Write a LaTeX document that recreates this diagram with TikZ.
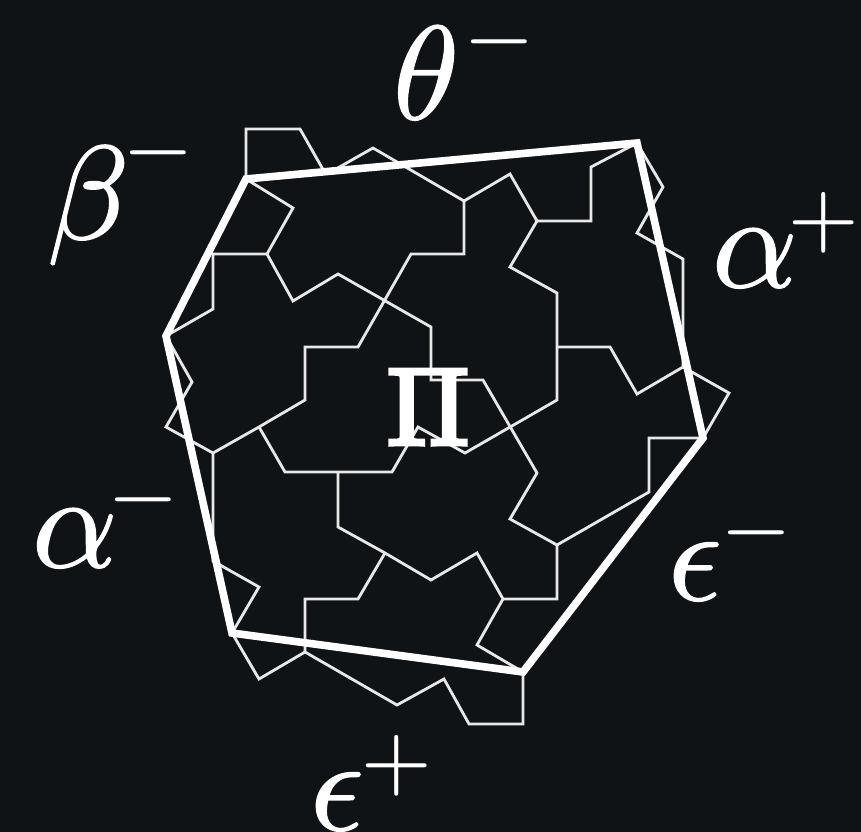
\documentclass[tikz,border=0pt]{standalone}
\usepackage{graphicx}
\usepackage{amsmath}
\definecolor{bgc}{HTML}{101316}
\definecolor{thinc}{HTML}{E8E8E8}
\tikzset{
  thinedge/.style={draw=thinc,line width=2.1pt,line join=miter,line cap=butt},
  thickedge/.style={draw=white,line width=5.7pt,line join=miter},
  lab/.style={text=white,inner sep=0pt,outer sep=0pt,anchor=base west}
}
\newdimen\pxu \pxu=0.75pt
\newcommand{\heavy}[2]{\special{pdf:code 2 Tr #1 w}#2\special{pdf:code 0 Tr}}
% base symbol, superscript, kern (px), raise (px)
\newcommand{\suplab}[4]{\scalebox{10}{\heavy{0.1}{$#1$}}\kern#3\pxu\raisebox{#4\pxu}{\scalebox{8.85}{$\scriptstyle{#2}$}}}
\begin{document}
\begin{tikzpicture}[x=0.75pt,y=-0.75pt]
\useasboundingbox[fill=bgc] (0,0) rectangle (861,832);
% outer vertices
\coordinate (V1) at (246,179);
\coordinate (V2) at (637,143);
\coordinate (V3) at (703,438);
\coordinate (V4) at (523,672);
\coordinate (V5) at (232,633);
\coordinate (V6) at (166,336);
\coordinate (J1) at (464,201);
\coordinate (J2) at (537,221);
\coordinate (J3) at (557,347);
\coordinate (J4) at (683,367);
\coordinate (J5) at (557,545);
\coordinate (J6) at (213,453);
\coordinate (J7) at (267,254);
\coordinate (J8) at (338,472);
\coordinate (J9) at (503,599);
\coordinate (J10) at (305,652);
\coordinate (J11) at (385,553);
\coordinate (J12) at (305,400);
\coordinate (J13) at (259,427);
% boundary tiles
\draw[thinedge] (V1) -- (246,129) -- (300,129) -- (325,173);
\draw[thinedge] (336,169) -- (373,148) -- (J1) -- (510,174) -- (J2) -- (591,221) -- (591,167) -- (V2);
\draw[thinedge] (V2) -- (663,187) -- (637,233) -- (683,259) -- (J4) -- (637,394) -- (610,347) -- (J3);
\draw[thinedge] (J4) -- (729,393) -- (V3);
\draw[thinedge] (V3) -- (649,438) -- (649,492) -- (J5) -- (510,519) -- (537,473) -- (483,380) -- (431,380) -- (431,327) -- (338,274) -- (293,301) -- (J7);
\draw[thinedge] (J1) -- (464,254) -- (411,254) -- (358,347) -- (305,347) -- (J12) -- (J13) -- (J6);
\draw[thinedge] (J2) -- (510,267) -- (557,293) -- (J3) -- (557,400) -- (465,453) -- (418,427) -- (392,472) -- (J8) -- (285,472) -- (J13);
\draw[thinedge] (J8) -- (338,527) -- (J11) -- (431,580) -- (477,553) -- (J9) -- (557,599) -- (J5);
\draw[thinedge] (J9) -- (477,645) -- (V4) -- (523,724) -- (469,724) -- (444,679) -- (397,705) -- (J10) -- (259,679) -- (V5);
\draw[thinedge] (J10) -- (305,599) -- (358,599) -- (J11);
\draw[thinedge] (V5) -- (259,587) -- (213,561) -- (J6) -- (166,427) -- (192,382) -- (V6);
\draw[thinedge] (V6) -- (213,309) -- (213,254) -- (J7) -- (293,208) -- (V1);
% thick polygon
\draw[thickedge] (V1) -- (V2) -- (V3) -- (V4) -- (V5) -- (V6) -- cycle;
% labels
\node[lab,anchor=center] (pi) at (428,407) {\scalebox{8.2}{\heavy{0.42}{$\Pi$}}};
\node[lab] (theta) at (393,119) {\suplab{\theta}{-}{3}{57}};
\node[lab] (beta) at (47,239) {\suplab{\beta}{-}{-8}{66}};
\node[lab] (aplus) at (712,287) {\suplab{\alpha}{+}{-10}{43}};
\node[lab] (aminus) at (32,567) {\suplab{\alpha}{-}{-11}{47}};
\node[lab] (eminus) at (668,600) {\suplab{\epsilon}{-}{-3}{47}};
\node[lab] (eplus) at (310,830) {\suplab{\epsilon}{+}{-4}{44}};
\end{tikzpicture}
\end{document}
